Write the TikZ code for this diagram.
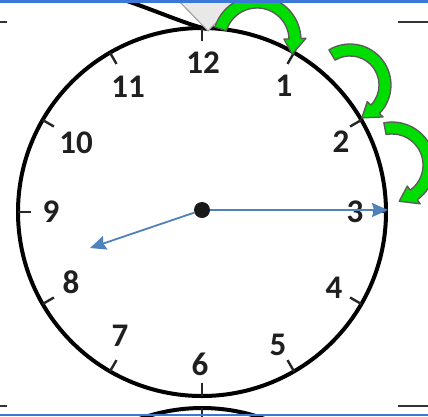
\documentclass[tikz,border=0pt]{standalone}
\usepackage{fontspec}
\setmainfont{Carlito}
\usetikzlibrary{arrows.meta}

\definecolor{handblue}{HTML}{4F81BD}
\definecolor{hopgreen}{HTML}{00DD00}
\definecolor{pagerule}{HTML}{3C78D8}
\definecolor{hopedge}{HTML}{5A5A5A}
\definecolor{pointerfill}{HTML}{E8E8E8}

% curved "jump" arrow: centre x, centre y, radius, start angle, end angle
\newcommand{\hopArrow}[5]{%
  \begin{scope}[shift={(#1,#2)}]
    \pgfmathsetmacro{\tipA}{#5+16/#3*57.3}
    \filldraw[hop] ({#4}:{#3+6}) arc[start angle=#4, end angle=#5, radius=#3+6]
      -- ({#5}:{#3+11}) -- ({\tipA}:{#3}) -- ({#5}:{#3-11}) -- ({#5}:{#3-6})
      arc[start angle=#5, end angle=#4, radius=#3-6] -- cycle;
  \end{scope}}

\begin{document}
\begin{tikzpicture}[x=1pt, y=-1pt,
    dial/.style={draw=black, line width=4pt},
    tick/.style={draw=black!85, line width=2.4pt},
    numlabel/.style={font=\fontsize{33}{33}\selectfont\bfseries, text=black!88, inner sep=0pt},
    hand/.style={draw=handblue, line width=1.8pt, -{Stealth[length=16pt,width=14pt,inset=2pt]}},
    hop/.style={fill=hopgreen, draw=hopedge, line width=1.3pt, line join=round},
    cellrule/.style={draw=black!80, line width=1.6pt}]

    % ==== DEFINITIONS ====
    \def\cx{202}   % dial centre x
    \def\cy{212}   % dial centre y
    \def\rad{184}  % dial radius

    \useasboundingbox (0,0) rectangle (428,416);
    \clip (0,0) rectangle (428,416);
    \fill[white] (0,0) rectangle (428,416);

    % ==== NEIGHBOUR CLOCKS ====
    \draw[dial] (118,-2) .. controls (155,10) and (185,24) .. (207,29);
    \draw[dial] (\cx,592) ++(250:\rad) arc[start angle=250, end angle=290, radius=\rad];
    \draw[tick] (\cx,408) -- (\cx,420);

    % ==== DIAL ====
    \draw[dial] (\cx,\cy) circle[radius=\rad];

    % ==== TICKS ====
    \begin{scope}[shift={(\cx,\cy)}]
      \foreach \h in {1,...,12}
        \draw[tick] ({\h*30-90}:\rad) -- ({\h*30-90}:{\rad-13});
    \end{scope}

    % ==== NUMBERS ====
    \foreach \h/\px/\py in {12/203/63, 1/284/86, 2/341/142, 3/355/212, 4/334/288,
                            5/278/345, 6/200/364, 7/120/336, 8/71/282, 9/51/212,
                            10/76/143, 11/128/87}
      \node[numlabel] (n\h) at (\px,\py) {\h};

    % ==== HANDS ====
    \node (hub) [circle, fill=black!90, minimum size=16pt, inner sep=0pt] at (202,210) {};
    \coordinate (mintip) at (388,210);
    \coordinate (hourtip) at (90,248);
    \draw[hand] (hub) -- (mintip);
    \draw[hand] (hub) -- (hourtip);

    % ==== POINTER ON 12 ====
    \filldraw[fill=pointerfill, draw=black!40, line width=1pt] (176,-2) -- (240,-2) -- (208,31) -- cycle;

    % ==== GREEN JUMPS ====
    \hopArrow{257}{40}{38}{197}{358}
    \hopArrow{350}{85}{35}{239}{404}
    \hopArrow{392}{165}{37}{259}{414}

    % ==== PAGE RULES ====
    \fill[pagerule] (0,0) rectangle (428,2.5);
    \fill[pagerule] (0,413.5) rectangle (428,416);
    \draw[cellrule] (0,22) -- (7,22);
    \draw[cellrule] (398,22) -- (428,22);
    \draw[cellrule] (0,406) -- (7,406);
    \draw[cellrule] (398,406) -- (428,406);
\end{tikzpicture}
\end{document}
